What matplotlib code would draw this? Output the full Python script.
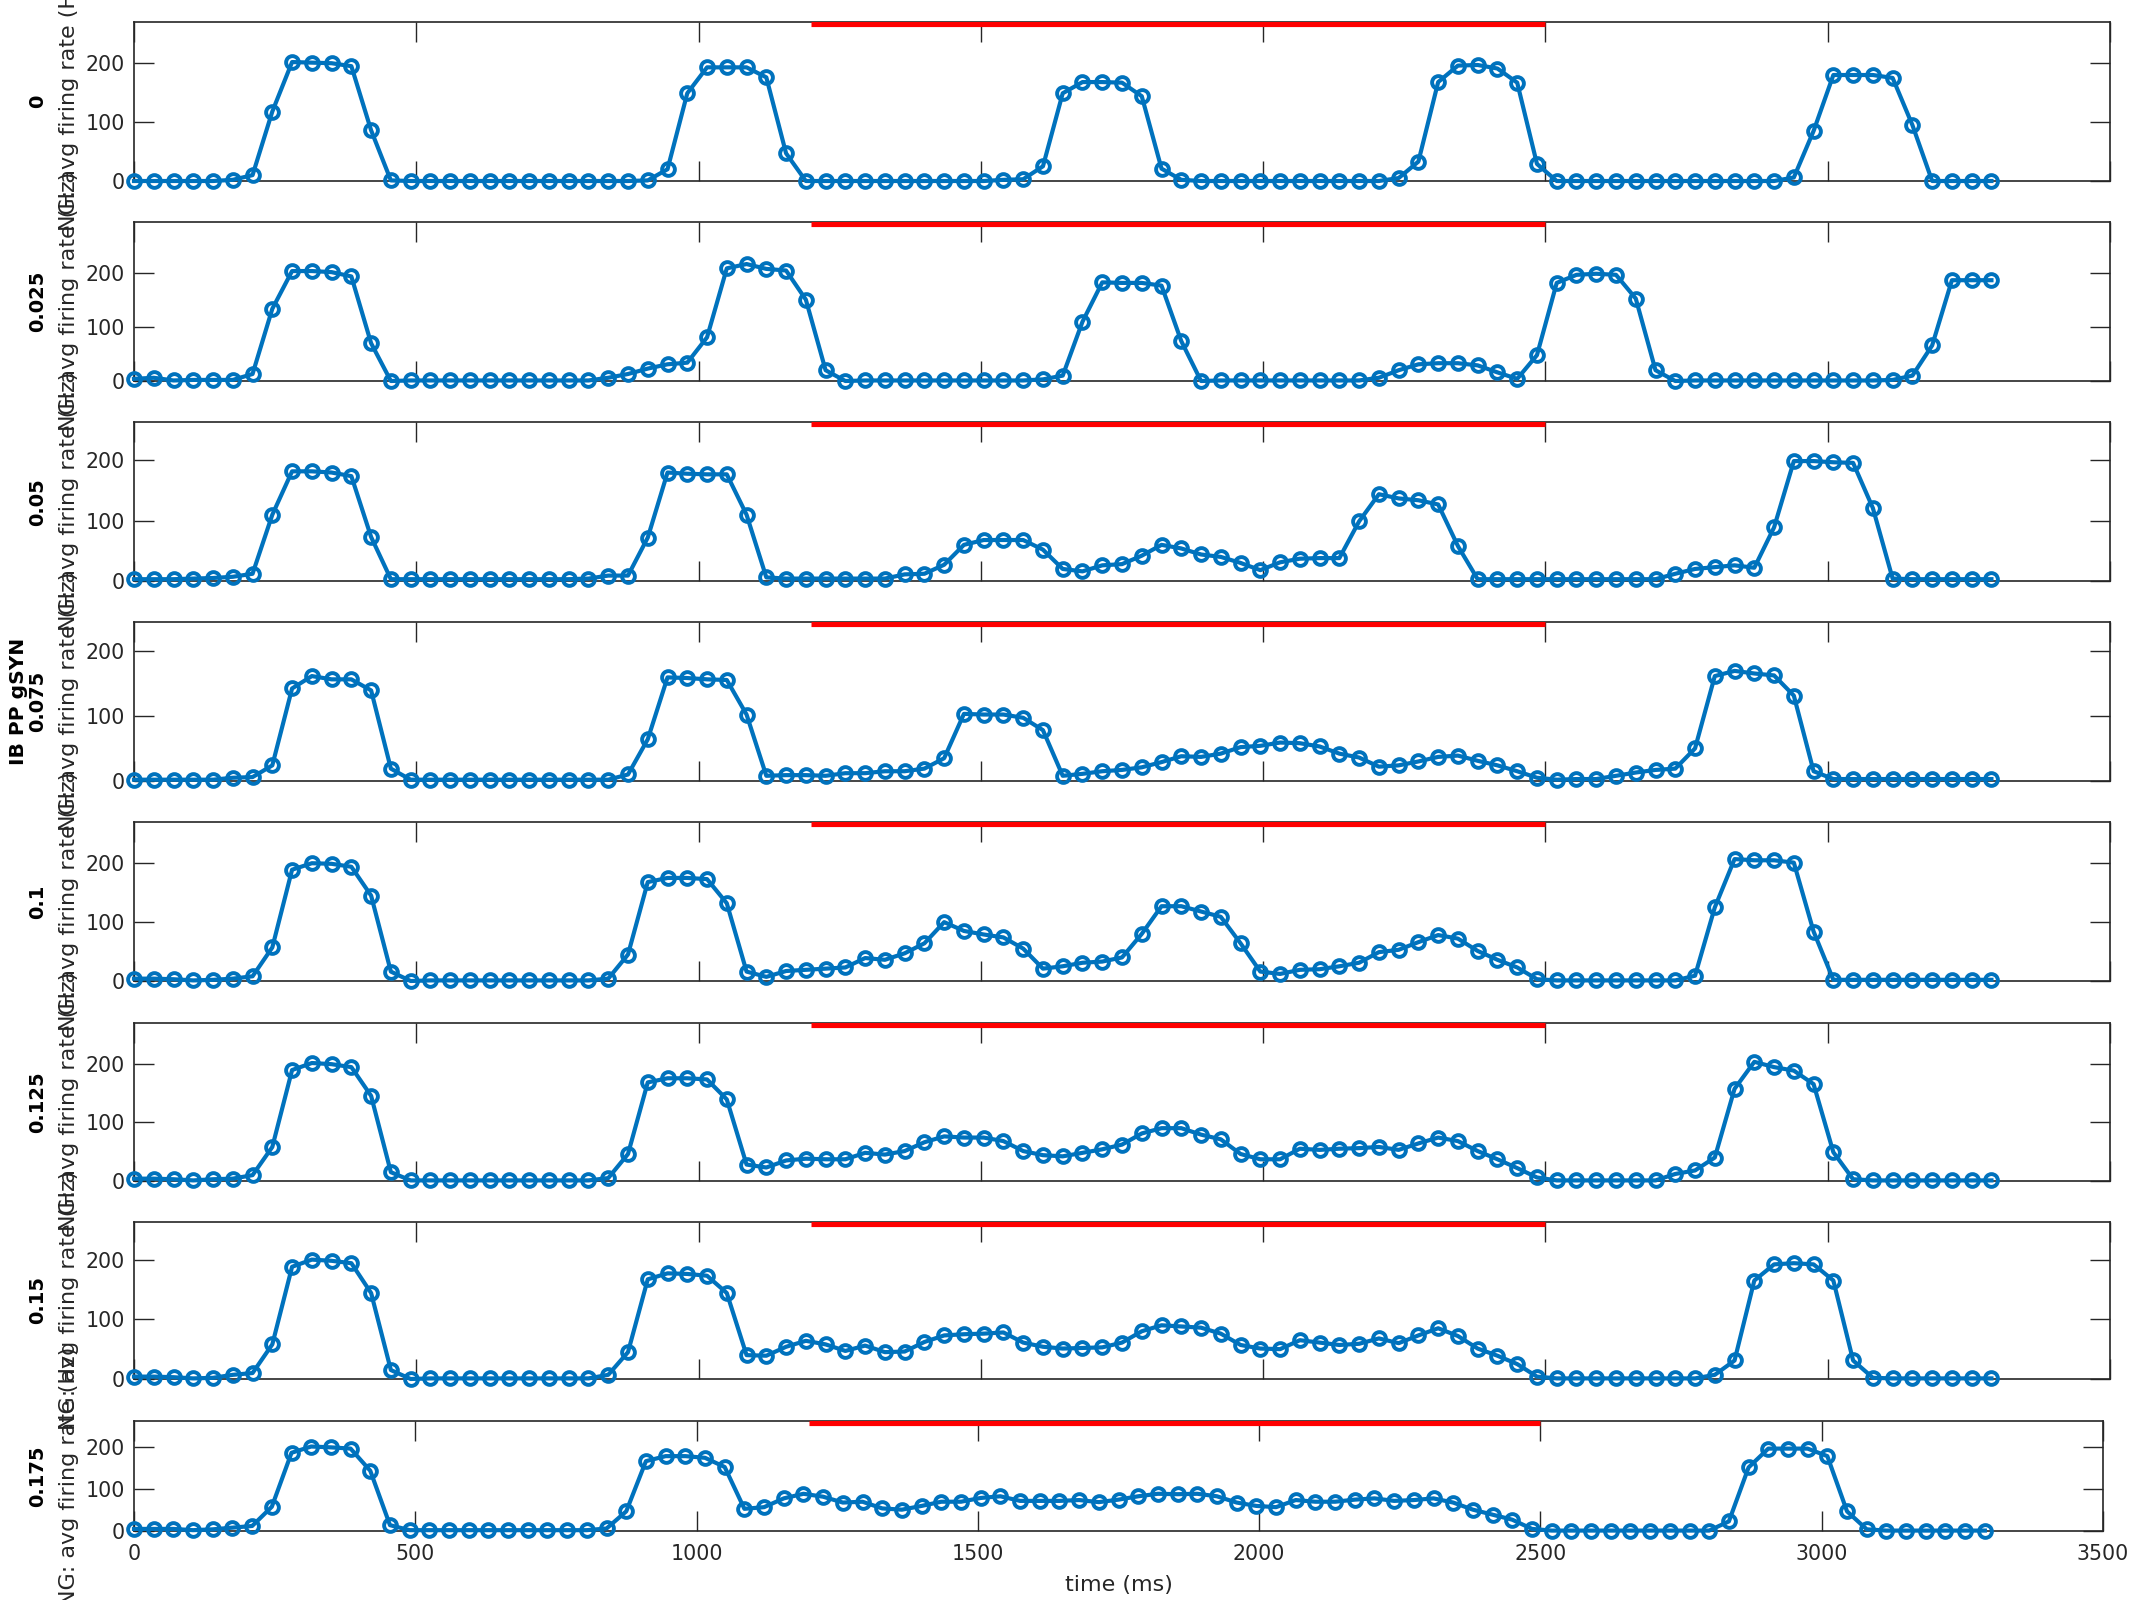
import numpy as np
import matplotlib
matplotlib.use("Agg")
import matplotlib.pyplot as plt

plt.rcParams['font.family'] = ['DejaVu Sans']

# ---------------- data ----------------
bin_width_ms = 35
n_bins = 95
time_ms = np.arange(n_bins) * bin_width_ms

gsyn_labels = ['0', '0.025', '0.05', '0.075', '0.1', '0.125', '0.15', '0.175']

rate_g0000 = [0, 0, 0, 0, 0, 2, 10, 118, 202, 201, 200, 195, 86, 1,
              0, 0, 0, 0, 0, 0, 0, 0, 0, 0, 0, 0,
              1, 20, 149, 193, 193, 193, 176, 47, 0,
              0, 0, 0, 0, 0, 0, 0, 0, 0,
              2, 3, 25, 149, 168, 168, 167, 144, 21, 2,
              0, 0, 0, 0, 0, 0, 0, 0, 0, 0,
              5, 33, 168, 196, 197, 191, 167, 29, 0,
              0, 0, 0, 0, 0, 0, 0, 0, 0, 0, 0,
              6, 85, 180, 180, 180, 175, 95, 0, 0, 0, 0]

rate_g0025 = [4, 6, 1, 2, 2, 2, 13, 134, 204, 204, 202, 194, 70, 0,
              1, 1, 1, 1, 1, 1, 1, 1, 1, 1,
              6, 13, 23, 31, 34, 81, 209, 217, 208, 205, 151, 20, 0,
              1, 1, 1, 1, 1, 1, 1, 1, 1,
              3, 10, 110, 183, 182, 182, 177, 74, 0,
              1, 1, 1, 1, 1, 1, 1, 1,
              6, 20, 31, 33, 33, 29, 16, 4, 48, 182, 197, 199, 197, 153, 20, 0,
              1, 1, 1, 1, 1, 1, 1, 1, 1, 1,
              2, 10, 66, 187, 187, 187]

rate_g0050 = [3, 3, 3, 4, 5, 7, 12, 110, 182, 182, 180, 174, 73, 3,
              3, 3, 3, 3, 3, 3, 3, 3, 3,
              4, 9, 9, 72, 180, 178, 177, 177, 110, 6,
              4, 4, 4, 4, 4, 4,
              11, 12, 27, 60, 68, 68, 68, 52, 20, 16, 26, 28,
              42, 60, 54, 44, 40, 30, 18, 31, 37, 38, 38, 99, 144, 137, 134, 127, 58, 3,
              3, 3, 3, 3, 3, 3, 3, 3, 3,
              12, 20, 23, 26, 22, 89, 199, 199, 197, 196, 121, 4,
              3, 3, 3, 3, 3]

rate_g0075 = [2, 2, 2, 2, 2, 5, 6, 24, 142, 161, 156, 156, 139, 19, 2,
              2, 2, 2, 2, 2, 2, 2, 2, 2, 2,
              10, 64, 159, 158, 156, 155, 102, 8, 9, 9, 8, 12, 12, 15, 15, 19, 35,
              103, 102, 102, 97, 78, 8, 11, 15, 17,
              21, 29, 38, 37, 42, 52, 54, 59, 58, 53, 42, 36, 22, 24, 30, 37, 39, 31,
              24, 15, 5, 2, 3, 3, 8, 13, 17, 19, 50, 161, 169, 165, 162, 131, 15, 3,
              3, 3, 3, 3, 3, 3, 3, 3]

rate_g0100 = [4, 4, 3, 1, 2, 4, 8, 57, 189, 200, 199, 194, 145, 16, 0,
              1, 1, 1, 1, 1, 1, 1, 1, 1,
              4, 45, 168, 175, 175, 173, 132, 16, 7, 17, 19, 21, 23, 39, 36, 47, 64,
              100, 85, 79, 74, 55, 21, 25, 31, 33, 40,
              80, 127, 127, 118, 109, 64, 16, 12, 19, 20, 25, 31, 49, 53, 66, 78, 72,
              51, 36, 23, 3,
              1, 1, 1, 1, 1, 1, 1,
              9, 125, 207, 205, 205, 201, 84, 2,
              2, 2, 2, 2, 2, 2, 2, 2]

rate_g0125 = [4, 4, 3, 1, 3, 4, 10, 58, 189, 201, 199, 194, 145, 15, 1,
              1, 1, 1, 1, 1, 1, 1, 1, 1,
              5, 46, 168, 175, 175, 173, 139, 28, 23, 35, 38, 37, 37, 48, 45, 51, 66,
              76, 74, 74, 68, 51, 44, 42, 48, 54, 62,
              81, 90, 90, 79, 71, 46, 37, 37, 55, 53, 55, 56, 58, 53, 64, 74, 68,
              51, 37, 22, 6,
              1, 1, 1, 1, 1, 1,
              12, 18, 40, 157, 203, 194, 188, 165, 49, 3,
              1, 1, 1, 1, 1, 1, 1]

rate_g0150 = [4, 4, 3, 1, 2, 7, 10, 58, 188, 200, 198, 194, 144, 15, 0,
              1, 1, 1, 1, 1, 1, 1, 1, 1,
              7, 45, 167, 177, 176, 173, 144, 40, 39, 54, 64, 58, 47, 56, 45, 46, 62,
              73, 75, 76, 78, 61, 54, 51, 52, 53, 61,
              80, 90, 88, 86, 76, 57, 51, 50, 65, 61, 57, 59, 68, 60, 73, 85, 72,
              51, 39, 25, 4,
              1, 1, 1, 1, 1, 1, 1, 1,
              7, 31, 165, 192, 194, 192, 165, 31, 2,
              1, 1, 1, 1, 1, 1]

rate_g0175 = [5, 5, 5, 2, 4, 8, 12, 58, 187, 202, 200, 197, 144, 14, 2,
              2, 2, 2, 2, 2, 2, 2, 2, 2,
              6, 47, 167, 179, 179, 175, 153, 53, 57, 78, 89, 82, 68, 70, 54, 51, 60,
              70, 70, 79, 83, 72, 72, 72, 74, 69, 75,
              83, 89, 88, 89, 83, 68, 60, 57, 74, 70, 70, 75, 78, 72, 74, 78, 68,
              51, 39, 27, 5,
              1, 1, 1, 1, 1, 1, 1, 1, 1,
              23, 152, 197, 197, 197, 179, 47, 4,
              1, 1, 1, 1, 1, 1]

rates = [rate_g0000, rate_g0025, rate_g0050, rate_g0075,
         rate_g0100, rate_g0125, rate_g0150, rate_g0175]

y_max = [270, 295, 263, 244, 270, 270, 263, 263]
stim_window_ms = [1200, 2500]
x_ticks = [0, 500, 1000, 1500, 2000, 2500, 3000, 3500]
y_ticks = [0, 100, 200]

# ---------------- layout ----------------
W, H, DPI = 2133, 1600, 200
fig = plt.figure(figsize=(W / DPI, H / DPI), dpi=DPI)

tops = [22, 222, 422.5, 622, 822, 1022.5, 1222, 1421]
bots = [181, 381, 581, 781, 981, 1181, 1379, 1531]
left_px = 134
rights = [2110] * 7 + [2103]

blue = '#0072BD'
dark = '#262626'

for i in range(8):
    top, bot, right = tops[i], bots[i], rights[i]
    ax = fig.add_axes([left_px / W, 1 - bot / H, (right - left_px) / W, (bot - top) / H])
    ax.plot(time_ms, rates[i], '-o', color=blue, lw=1.5, ms=4.6, mew=1.4,
            mfc='none', clip_on=False, zorder=4)
    ax.plot(stim_window_ms, [y_max[i], y_max[i]], color='red', lw=3.3,
            solid_capstyle='butt', zorder=5)
    ax.set_xlim(0, 3500)
    ax.set_ylim(0, y_max[i])
    ax.set_xticks(x_ticks)
    ax.set_yticks(y_ticks)
    ax.tick_params(direction='in', length=7.2, width=0.5, top=True, right=True,
                   labelsize=7.4, colors=dark, pad=3.2)
    ax.tick_params(axis='x', pad=4.5)
    if i < 7:
        ax.tick_params(labelbottom=False)
    for sp in ax.spines.values():
        sp.set_linewidth(0.6)
        sp.set_color(dark)

    cy = 1 - (top + bot) / 2 / H
    fig.text(69 / W, cy, 'NG: avg firing rate (Hz)', rotation=90, ha='center',
             va='center', fontsize=8, color=dark)
    fig.text(38 / W, cy, gsyn_labels[i], rotation=90, ha='center', va='center',
             fontsize=7, fontweight='bold', color='black')
    if i == 3:
        fig.text(19 / W, cy, 'IB PP gSYN', rotation=90, ha='center', va='center',
                 fontsize=7.3, fontweight='bold', color='black')

fig.text((left_px + 2103) / 2 / W, 1 - 1585 / H, 'time (ms)', ha='center',
         va='center', fontsize=8, color=dark)

fig.savefig('out.png', dpi=DPI)
